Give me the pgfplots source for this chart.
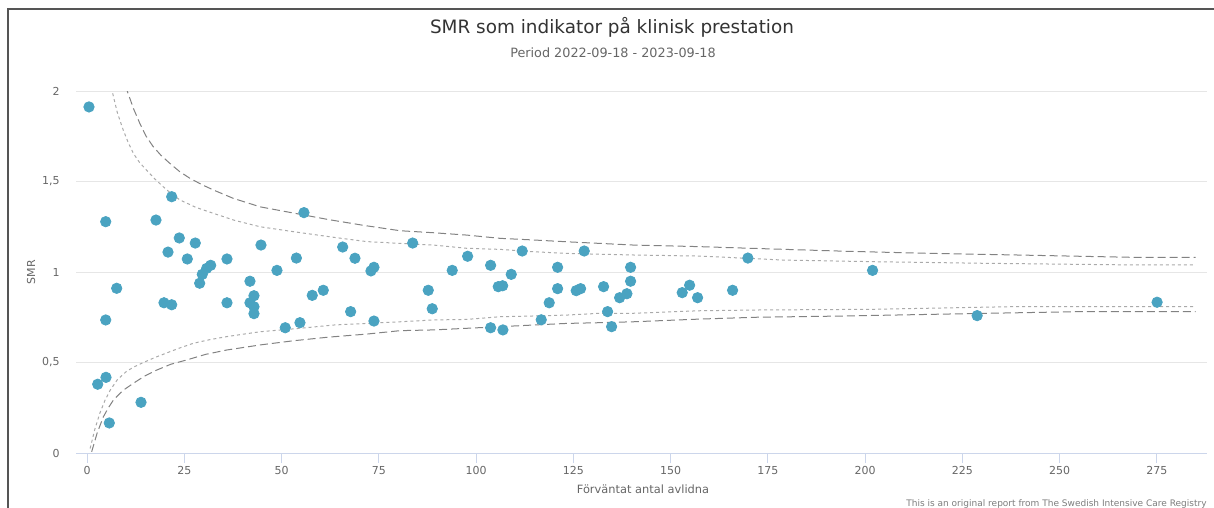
\documentclass[border=0pt]{standalone}
\usepackage{pgfplots}
\pgfplotsset{compat=1.18}
\usepackage{fontspec}
\setmainfont{DejaVu Sans}
\definecolor{pt}{RGB}{74,163,193}
\definecolor{gridc}{RGB}{230,230,230}
\definecolor{axc}{RGB}{204,214,235}
\definecolor{txt}{RGB}{102,102,102}
\definecolor{ttl}{RGB}{51,51,51}
\definecolor{outerc}{RGB}{130,130,130}
\definecolor{innerc}{RGB}{170,170,170}
\definecolor{frame}{RGB}{85,85,85}
\begin{document}
\begin{tikzpicture}
\path[use as bounding box] (0,0) rectangle (607bp,-254bp);
\draw[frame, line width=1bp] (4bp,-254bp) -- (4bp,-4.25bp) -- (607bp,-4.25bp);
\begin{axis}[
  at={(38bp,-226.5bp)}, anchor=south west,
  scale only axis, width=565.5bp, height=181bp,
  xmin=-2.83, xmax=287.9, ymin=0, ymax=2,
  axis x line*=bottom, axis y line*=left,
  x axis line style={draw=axc, line width=0.5bp},
  y axis line style={draw=none},
  xtick={0,25,...,275},
  xticklabels={0,25,50,75,100,125,150,175,200,225,250,275},
  ytick={0,0.5,1,1.5,2},
  yticklabels={0,{0,5},1,{1,5},2},
  xtick align=outside, major tick length=5bp,
  xtick style={draw=axc, line width=0.5bp},
  ytick style={draw=none},
  ymajorgrids, grid style={draw=gridc, line width=0.5bp},
  tick label style={font=\fontsize{5.5bp}{6.6bp}\selectfont, text=txt, inner sep=0pt},
  xticklabel style={anchor=north, yshift=-1.5bp},
  yticklabel style={anchor=east, xshift=-8bp},
  clip=true,
]
\addplot[outerc, line width=0.5bp, dash pattern=on 4bp off 2bp] coordinates {
(10.0,2.03)(10.4,1.996)(12.0,1.90)(13.6,1.82)(15.2,1.75)(17,1.693)(19,1.645)(21.3,1.60)(23.8,1.555)(26.5,1.517)(29.5,1.483)(32.5,1.453)(37.6,1.407)(44.5,1.36)(53,1.326)(62,1.29)(71,1.258)(80.5,1.228)(89,1.217)(97.6,1.204)(106.2,1.186)(114.7,1.177)(123.3,1.167)(131.9,1.158)(140.4,1.149)(157.6,1.14)(175,1.128)(196,1.114)(216.7,1.103)(239,1.094)(255,1.087)(269,1.081)(285,1.081)};
\addplot[innerc, line width=0.5bp, dash pattern=on 1.5bp off 1.5bp] coordinates {
(6.3,2.02)(6.5,1.996)(7.8,1.88)(9.3,1.785)(10.6,1.715)(11.9,1.656)(13.5,1.605)(15.3,1.563)(17.4,1.515)(19.6,1.471)(21.7,1.432)(23.9,1.398)(28,1.357)(32.5,1.324)(38,1.285)(44.5,1.25)(53,1.223)(63.3,1.192)(71.9,1.168)(80.5,1.158)(89,1.149)(97.6,1.131)(106.2,1.125)(114.7,1.112)(123.3,1.103)(131.9,1.098)(140.4,1.094)(157.6,1.088)(179,1.066)(202,1.057)(231,1.048)(269,1.039)(285,1.039)};
\addplot[innerc, line width=0.5bp, dash pattern=on 1.5bp off 1.5bp] coordinates {
(0.8,0.025)(2.0,0.13)(3.3,0.22)(4.6,0.29)(5.9,0.345)(7.8,0.405)(10.2,0.452)(12.3,0.478)(14.5,0.50)(17.5,0.528)(20.5,0.553)(23.8,0.58)(27.3,0.606)(31.5,0.626)(35.9,0.643)(44.5,0.67)(54.8,0.689)(63.3,0.707)(71.9,0.716)(80.5,0.725)(89,0.735)(97.6,0.738)(106.2,0.753)(114.7,0.757)(123.3,0.762)(131.9,0.772)(140.4,0.772)(157.6,0.786)(172,0.79)(202,0.794)(239,0.809)(285,0.809)};
\addplot[outerc, line width=0.5bp, dash pattern=on 4bp off 2bp] coordinates {
(1.2,0.007)(2.6,0.11)(4.2,0.2)(5.5,0.25)(6.8,0.293)(9.2,0.345)(11.9,0.385)(14.8,0.425)(17.9,0.458)(21.5,0.49)(25.6,0.514)(30.5,0.545)(35.9,0.569)(44.5,0.597)(53,0.62)(62,0.64)(71.9,0.657)(80.5,0.676)(89,0.680)(97.6,0.689)(106.2,0.698)(114.7,0.707)(123.3,0.716)(131.9,0.72)(140.4,0.725)(157.6,0.74)(172,0.75)(195,0.757)(221.8,0.768)(255,0.781)(285,0.781)};
\addplot[only marks, color=pt, mark=*, mark size=2.6bp, mark options={fill=pt, draw=none}] coordinates {
(0.51,1.912)(4.81,1.278)(4.81,0.735)(2.75,0.380)(4.88,0.418)(5.73,0.166)(7.63,0.910)(13.88,0.280)
(17.73,1.287)(21.77,1.416)(23.72,1.188)(20.82,1.110)(19.79,0.830)(21.77,0.819)(25.78,1.072)(27.83,1.160)
(28.96,0.938)(29.63,0.987)(30.76,1.020)(31.79,1.037)(35.98,1.072)(35.98,0.830)(41.89,0.949)(41.89,0.830)
(42.92,0.869)(42.92,0.808)(42.92,0.770)(44.72,1.149)(48.83,1.009)(50.96,0.692)(53.82,1.077)(54.74,0.720)
(55.77,1.328)(57.90,0.871)(60.73,0.899)(65.72,1.138)(67.77,0.781)(68.88,1.076)(72.99,1.006)(73.76,1.026)
(73.76,0.729)(83.71,1.160)(87.72,0.899)(88.74,0.797)(93.88,1.009)(97.84,1.087)(103.75,1.037)(103.75,0.692)
(105.71,0.919)(106.84,0.924)(106.91,0.680)(109.05,0.987)(111.87,1.116)(116.76,0.736)(118.81,0.830)(120.97,1.026)
(120.97,0.908)(125.75,0.897)(126.88,0.908)(127.81,1.116)(132.79,0.919)(133.82,0.781)(134.85,0.698)(136.91,0.858)
(138.78,0.880)(139.73,0.949)(139.73,1.026)(153.0,0.886)(154.90,0.927)(156.95,0.858)(165.95,0.899)(169.88,1.077)
(201.93,1.009)(228.81,0.759)(275.07,0.833)};
\end{axis}
\node[text=ttl, font=\fontsize{9.2bp}{11bp}\selectfont] at (306bp,-13.5bp) {SMR som indikator på klinisk prestation};
\node[text=txt, font=\fontsize{6.4bp}{7.7bp}\selectfont] at (306.5bp,-26.5bp) {Period 2022-09-18 - 2023-09-18};
\node[text=txt, font=\fontsize{5.7bp}{6.8bp}\selectfont] at (321.5bp,-244.5bp) {Förväntat antal avlidna};
\node[text=txt, rotate=90, font=\fontsize{5.5bp}{6.6bp}\selectfont] at (15.5bp,-136bp) {SMR};
\node[text=txt!85, anchor=east, inner sep=0pt, font=\fontsize{4.5bp}{5.4bp}\selectfont] at (603.5bp,-252bp) {This is an original report from The Swedish Intensive Care Registry};
\end{tikzpicture}
\end{document}
